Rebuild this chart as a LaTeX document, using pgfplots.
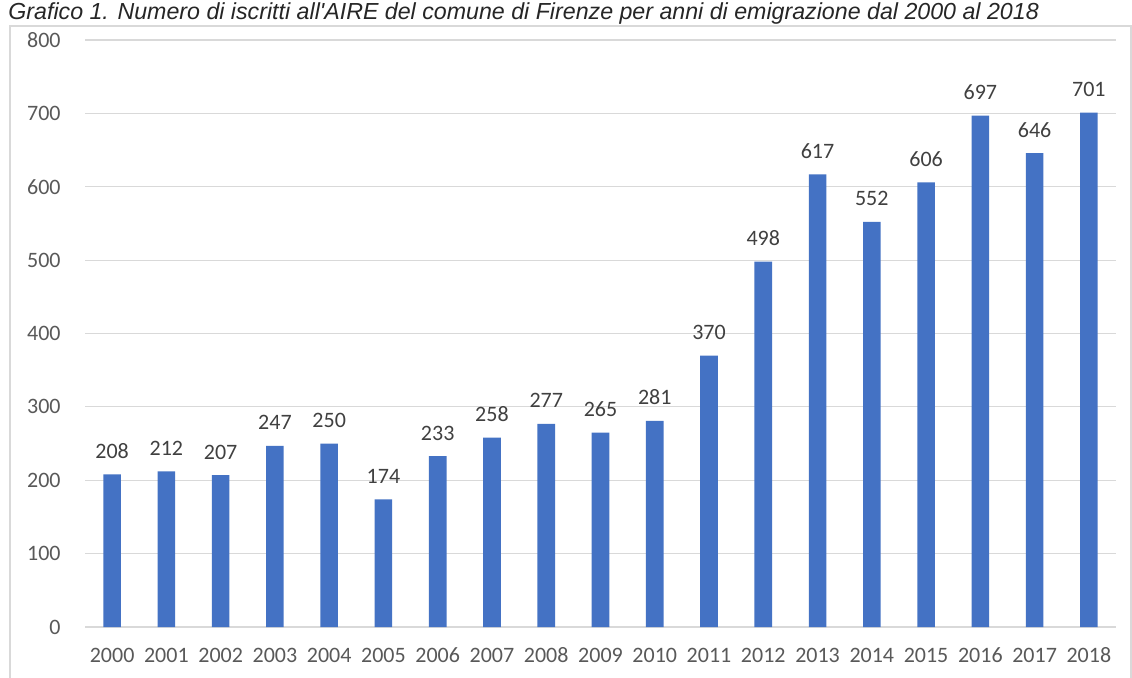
\documentclass[border=0pt]{standalone}
\usepackage{fontspec}
\setmainfont{Carlito}
\newfontfamily\titlefont{Liberation Sans}
\usepackage{pgfplots}
\pgfplotsset{compat=1.18}
\definecolor{barblue}{HTML}{4472C4}
\definecolor{gridgrey}{HTML}{D9D9D9}
\definecolor{ticktext}{HTML}{595959}
\definecolor{labeltext}{HTML}{404040}
\begin{document}
\begin{tikzpicture}
% reference canvas: 1132 x 677 px, 1px = 0.5pt
\useasboundingbox (0,0) rectangle (566pt,338.5pt);
\clip (0,0) rectangle (566pt,338.5pt);
\fill[white] (0,0) rectangle (566pt,338.5pt);
% title
\node[anchor=base west, inner sep=0pt, font=\titlefont\itshape\fontsize{11.6pt}{13pt}\selectfont, text=black!85]
  at (4pt,329pt) {Grafico 1. Numero di iscritti all'AIRE del comune di Firenze per anni di emigrazione dal 2000 al 2018};
% chart frame
\draw[gridgrey, line width=0.8pt] (5pt,-5pt) rectangle (565.6pt,325.5pt);
\begin{axis}[
    at={(42.5pt,25pt)}, anchor=south west,
    scale only axis,
    width=515.5pt, height=293.5pt,
    xmin=-0.5, xmax=18.5,
    ymin=0, ymax=800,
    ybar, bar width=8.8pt,
    xtick={0,...,18},
    xticklabels={2000,2001,2002,2003,2004,2005,2006,2007,2008,2009,2010,2011,2012,2013,2014,2015,2016,2017,2018},
    ytick={0,100,...,800},
    axis x line*=bottom,
    axis y line*=left,
    y axis line style={draw=none},
    ymajorgrids=true,
    grid style={gridgrey, line width=0.6pt},
    x axis line style={gridgrey, line width=0.8pt, -},
    major tick length=0pt,
    tick style={draw=none},
    /pgf/number format/assume math mode=true,
    ticklabel style={font=\fontsize{11pt}{13pt}\selectfont, text=ticktext},
    xticklabel style={anchor=base, inner sep=0pt, yshift=-17.5pt},
    yticklabel style={anchor=east, inner sep=0pt, xshift=-12pt},
    nodes near coords,
    every node near coord/.append style={font=\fontsize{11pt}{13pt}\selectfont, text=labeltext, anchor=base, inner sep=0pt, yshift=8pt},
    clip=false,
  ]
  \addplot[fill=barblue, draw=none] coordinates {
    (0,208) (1,212) (2,207) (3,247) (4,250) (5,174) (6,233) (7,258) (8,277) (9,265)
    (10,281) (11,370) (12,498) (13,617) (14,552) (15,606) (16,697) (17,646) (18,701)
  };
\end{axis}
\end{tikzpicture}
\end{document}
